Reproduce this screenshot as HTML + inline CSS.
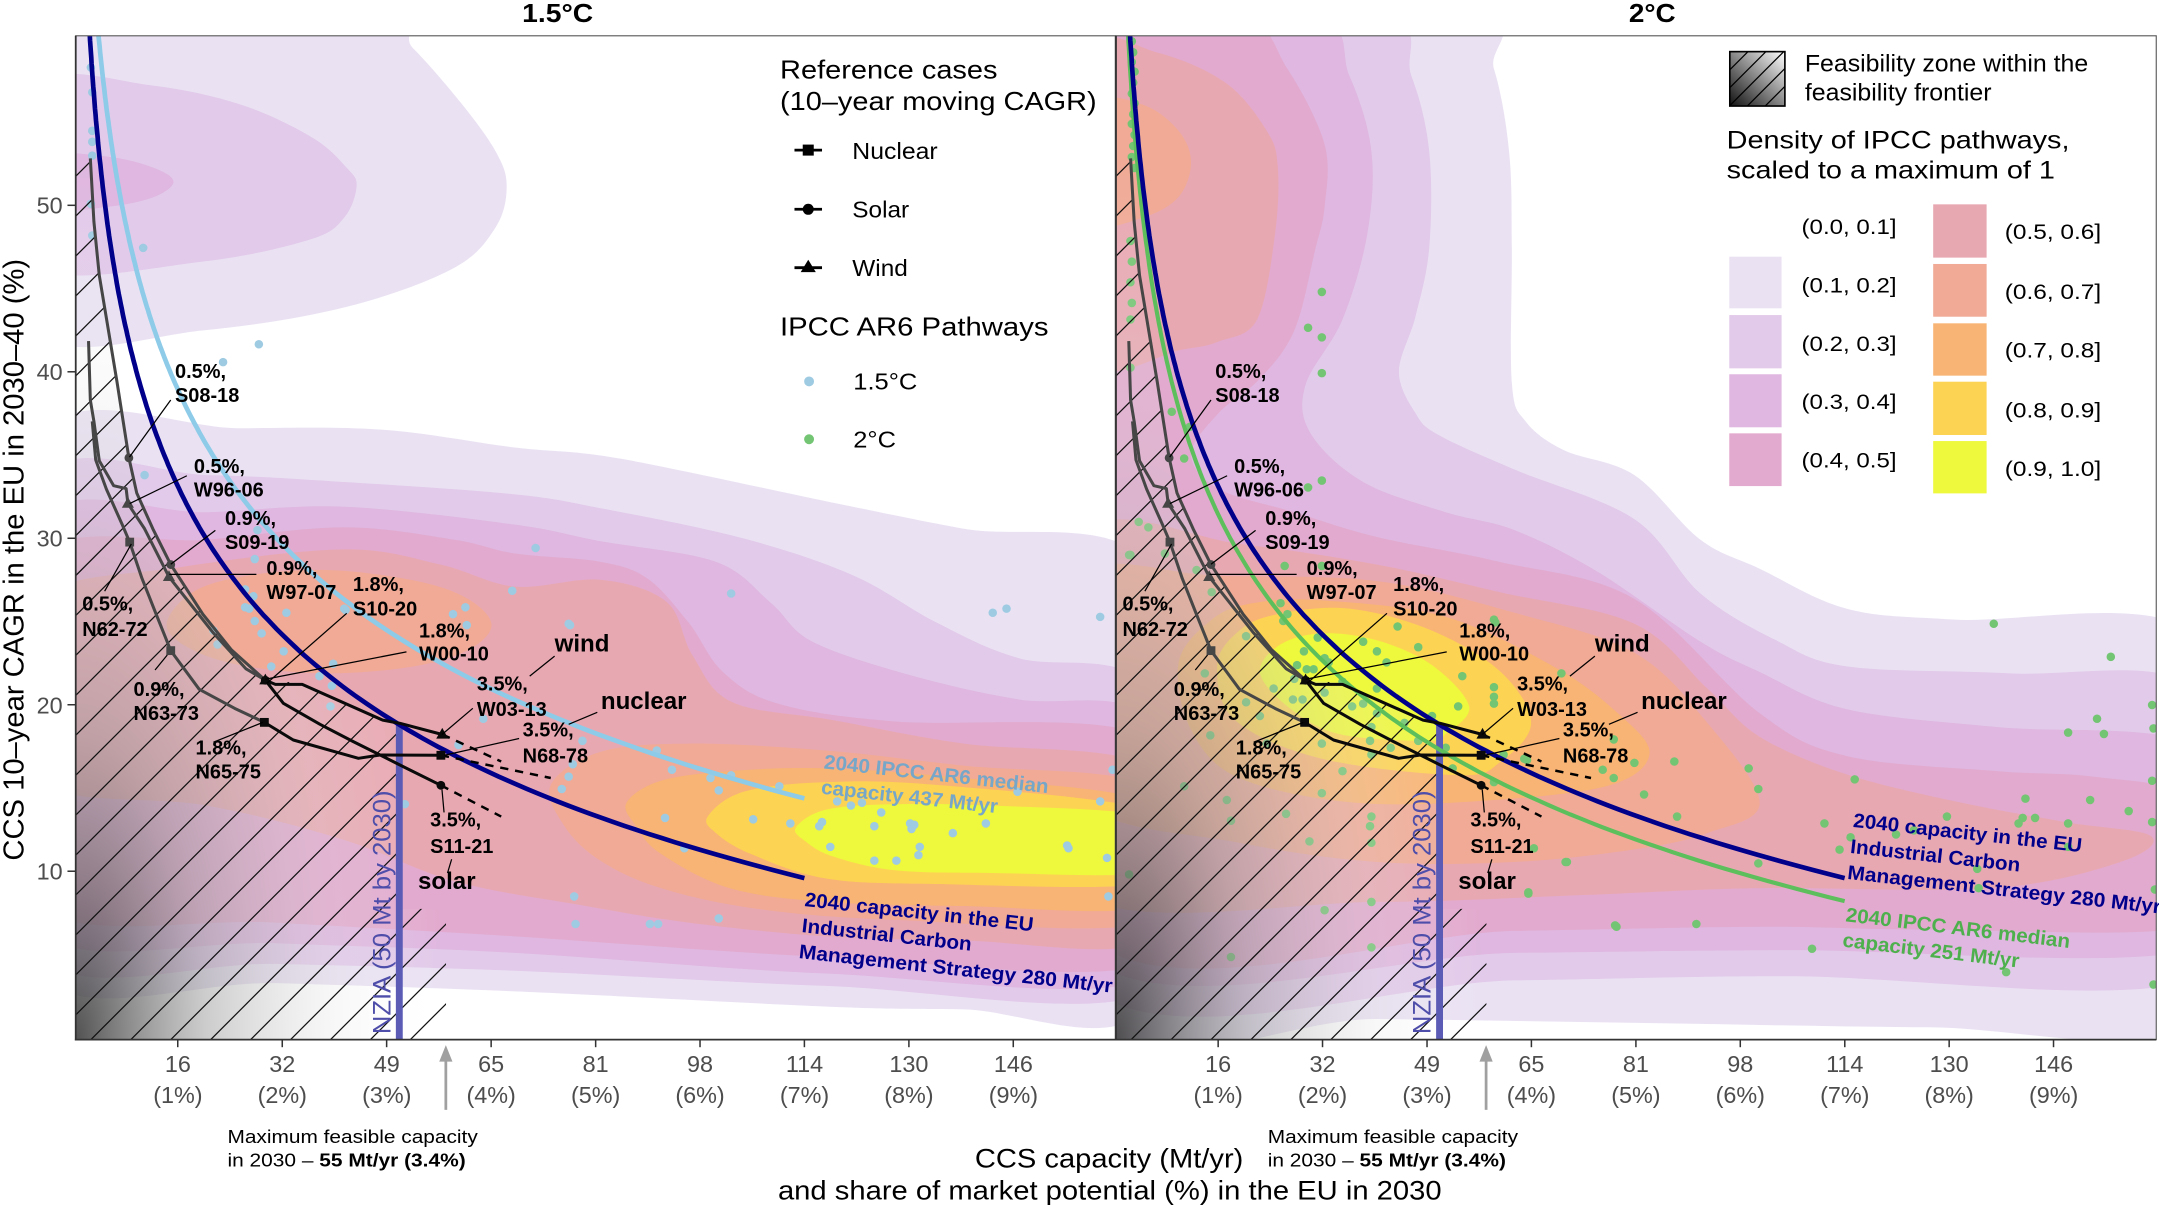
<!DOCTYPE html>
<html><head><meta charset="utf-8"><title>CCS feasibility frontier</title>
<style>
html,body{margin:0;padding:0;background:#fff;overflow:hidden;}
svg{display:block;}
text{font-family:"Liberation Sans",Arial,Helvetica,sans-serif;}
.tk{font-size:17px;fill:#4d4d4d;text-anchor:middle;}
.yt{font-size:17px;fill:#4d4d4d;text-anchor:end;}
.lb{font-size:14.5px;font-weight:bold;fill:#000;}
.lb2{font-size:17.5px;font-weight:bold;fill:#000;}
.lg{font-size:16.5px;fill:#000;}
</style></head><body>
<svg id="s" xmlns="http://www.w3.org/2000/svg" width="2159" height="1209" viewBox="0 0 1568 878" preserveAspectRatio="none">
<defs>
<clipPath id="cpL"><rect x="55" y="26" width="755" height="729"/></clipPath>
<clipPath id="cpR"><rect x="810.5" y="26" width="755.5" height="729"/></clipPath>
<radialGradient id="gg" cx="0" cy="1" r="1" fx="0" fy="1">
<stop offset="0" stop-color="#333333" stop-opacity="0.85"/>
<stop offset="0.35" stop-color="#999999" stop-opacity="0.5"/>
<stop offset="0.7" stop-color="#dddddd" stop-opacity="0.22"/>
<stop offset="1" stop-color="#ffffff" stop-opacity="0"/>
</radialGradient>
<linearGradient id="lgr" x1="0" y1="1" x2="1" y2="0">
<stop offset="0" stop-color="#111"/><stop offset="1" stop-color="#fff"/>
</linearGradient>
<clipPath id="lgc"><rect x="1256.3" y="37.5" width="40" height="39.5"/></clipPath>
</defs>
<rect width="1568" height="878" fill="#fff"/>
<g id="panL" clip-path="url(#cpL)"></g>
<g id="panR" clip-path="url(#cpR)"></g>

<!-- panel borders & axes -->
<rect x="55" y="26" width="755" height="729" fill="none" stroke="#555" stroke-width="0.8"/>
<rect x="810.5" y="26" width="755.5" height="729" fill="none" stroke="#555" stroke-width="0.8"/>
<line x1="55" y1="26" x2="55" y2="755.6" stroke="#333" stroke-width="1.3"/>
<line x1="810.5" y1="26" x2="810.5" y2="755.6" stroke="#333" stroke-width="1.3"/>
<line x1="54.4" y1="755" x2="810" y2="755" stroke="#333" stroke-width="1.3"/>
<line x1="810" y1="755" x2="1566" y2="755" stroke="#333" stroke-width="1.3"/>
<g id="ticks" stroke="#333" stroke-width="1.1"></g>

<!-- titles -->
<text x="405" y="16" font-size="18.5" font-weight="bold" text-anchor="middle" textLength="51.6" lengthAdjust="spacingAndGlyphs">1.5°C</text>
<text x="1200" y="16" font-size="18.5" font-weight="bold" text-anchor="middle" textLength="34" lengthAdjust="spacingAndGlyphs">2°C</text>

<!-- y tick labels -->
<text class="yt" x="45.5" y="155">50</text>
<text class="yt" x="45.5" y="276">40</text>
<text class="yt" x="45.5" y="397">30</text>
<text class="yt" x="45.5" y="518">20</text>
<text class="yt" x="45.5" y="638.7">10</text>

<!-- x tick labels -->
<g>
<text class="tk" x="129.2" y="778.5">16</text><text class="tk" x="129.2" y="801">(1%)</text>
<text class="tk" x="205" y="778.5">32</text><text class="tk" x="205" y="801">(2%)</text>
<text class="tk" x="280.9" y="778.5">49</text><text class="tk" x="280.9" y="801">(3%)</text>
<text class="tk" x="356.7" y="778.5">65</text><text class="tk" x="356.7" y="801">(4%)</text>
<text class="tk" x="432.6" y="778.5">81</text><text class="tk" x="432.6" y="801">(5%)</text>
<text class="tk" x="508.4" y="778.5">98</text><text class="tk" x="508.4" y="801">(6%)</text>
<text class="tk" x="584.3" y="778.5">114</text><text class="tk" x="584.3" y="801">(7%)</text>
<text class="tk" x="660.1" y="778.5">130</text><text class="tk" x="660.1" y="801">(8%)</text>
<text class="tk" x="736" y="778.5">146</text><text class="tk" x="736" y="801">(9%)</text>
<text class="tk" x="884.7" y="778.5">16</text><text class="tk" x="884.7" y="801">(1%)</text>
<text class="tk" x="960.5" y="778.5">32</text><text class="tk" x="960.5" y="801">(2%)</text>
<text class="tk" x="1036.4" y="778.5">49</text><text class="tk" x="1036.4" y="801">(3%)</text>
<text class="tk" x="1112.2" y="778.5">65</text><text class="tk" x="1112.2" y="801">(4%)</text>
<text class="tk" x="1188.1" y="778.5">81</text><text class="tk" x="1188.1" y="801">(5%)</text>
<text class="tk" x="1263.9" y="778.5">98</text><text class="tk" x="1263.9" y="801">(6%)</text>
<text class="tk" x="1339.8" y="778.5">114</text><text class="tk" x="1339.8" y="801">(7%)</text>
<text class="tk" x="1415.6" y="778.5">130</text><text class="tk" x="1415.6" y="801">(8%)</text>
<text class="tk" x="1491.5" y="778.5">146</text><text class="tk" x="1491.5" y="801">(9%)</text>
</g>

<!-- axis titles -->
<text x="805.5" y="848" font-size="19.5" text-anchor="middle" textLength="195" lengthAdjust="spacingAndGlyphs">CCS capacity (Mt/yr)</text>
<text x="806" y="871" font-size="19.5" text-anchor="middle" textLength="482" lengthAdjust="spacingAndGlyphs">and share of market potential (%) in the EU in 2030</text>
<text transform="translate(17,406.5) rotate(-90)" font-size="20.5" text-anchor="middle" textLength="437" lengthAdjust="spacingAndGlyphs">CCS 10–year CAGR in the EU in 2030–40 (%)</text>

<!-- max feasible annotations -->
<g fill="#a0a0a0" stroke="#a0a0a0" stroke-width="2">
<line x1="323.8" y1="806" x2="323.8" y2="768"/><path d="M323.8,759L319,771L328.6,771Z" stroke="none"/>
<line x1="1079.3" y1="806" x2="1079.3" y2="768"/><path d="M1079.3,759L1074.5,771L1084.1,771Z" stroke="none"/>
</g>
<text x="165.2" y="830" font-size="13.5" textLength="181.8" lengthAdjust="spacingAndGlyphs">Maximum feasible capacity</text>
<text x="165.2" y="847" font-size="13.5" textLength="173" lengthAdjust="spacingAndGlyphs">in 2030 – <tspan font-weight="bold">55 Mt/yr (3.4%)</tspan></text>
<text x="920.7" y="830" font-size="13.5" textLength="181.8" lengthAdjust="spacingAndGlyphs">Maximum feasible capacity</text>
<text x="920.7" y="847" font-size="13.5" textLength="173" lengthAdjust="spacingAndGlyphs">in 2030 – <tspan font-weight="bold">55 Mt/yr (3.4%)</tspan></text>

<!-- NZIA texts -->
<text transform="translate(283.5,751) rotate(-90)" font-size="18" fill="#4e4eaa" textLength="177" lengthAdjust="spacingAndGlyphs">NZIA (50 Mt by 2030)</text>
<text transform="translate(1039,751) rotate(-90)" font-size="18" fill="#4e4eaa" textLength="177" lengthAdjust="spacingAndGlyphs">NZIA (50 Mt by 2030)</text>

<!-- curve labels -->
<g font-weight="bold" font-size="14.5" fill="#00008B">
<g transform="translate(584,658) rotate(6.3)">
<text x="0" y="0" textLength="167" lengthAdjust="spacingAndGlyphs">2040 capacity in the EU</text>
<text x="0" y="19" textLength="124" lengthAdjust="spacingAndGlyphs">Industrial Carbon</text>
<text x="0" y="38" textLength="229" lengthAdjust="spacingAndGlyphs">Management Strategy 280 Mt/yr</text>
</g>
<g transform="translate(1345.5,600.5) rotate(6.3)">
<text x="0" y="0" textLength="167" lengthAdjust="spacingAndGlyphs">2040 capacity in the EU</text>
<text x="0" y="19" textLength="124" lengthAdjust="spacingAndGlyphs">Industrial Carbon</text>
<text x="0" y="38" textLength="229" lengthAdjust="spacingAndGlyphs">Management Strategy 280 Mt/yr</text>
</g>
</g>
<g font-weight="bold" font-size="14.5" fill="#76a6c8" transform="translate(598,558) rotate(6.3)">
<text x="0" y="0" textLength="164" lengthAdjust="spacingAndGlyphs">2040 IPCC AR6 median</text>
<text x="0" y="18.5" textLength="129" lengthAdjust="spacingAndGlyphs">capacity 437 Mt/yr</text>
</g>
<g font-weight="bold" font-size="14.5" fill="#4db04d" transform="translate(1340,669) rotate(6.8)">
<text x="0" y="0" textLength="164" lengthAdjust="spacingAndGlyphs">2040 IPCC AR6 median</text>
<text x="0" y="18.5" textLength="129" lengthAdjust="spacingAndGlyphs">capacity 251 Mt/yr</text>
</g>

<!-- point labels left panel -->
<g>
<text class="lb" x="127.1" y="274.4">0.5%,</text><text class="lb" x="127.1" y="291.8">S08-18</text>
<text class="lb" x="140.8" y="343.6">0.5%,</text><text class="lb" x="140.8" y="360.5">W96-06</text>
<text class="lb" x="163.4" y="381.3">0.9%,</text><text class="lb" x="163.4" y="398.7">S09-19</text>
<text class="lb" x="193.5" y="417.6">0.9%,</text><text class="lb" x="193.5" y="435">W97-07</text>
<text class="lb" x="256.3" y="429.3">1.8%,</text><text class="lb" x="256.3" y="446.9">S10-20</text>
<text class="lb" x="304.3" y="463">1.8%,</text><text class="lb" x="304.3" y="479.8">W00-10</text>
<text class="lb" x="59.7" y="443.5">0.5%,</text><text class="lb" x="59.7" y="461.7">N62-72</text>
<text class="lb" x="97" y="505.5">0.9%,</text><text class="lb" x="97" y="523">N63-73</text>
<text class="lb" x="142" y="547.9">1.8%,</text><text class="lb" x="142" y="565.4">N65-75</text>
<text class="lb" x="346.3" y="501.6">3.5%,</text><text class="lb" x="346.3" y="519.8">W03-13</text>
<text class="lb" x="379.6" y="534.8">3.5%,</text><text class="lb" x="379.6" y="553.7">N68-78</text>
<text class="lb" x="312.4" y="600.3">3.5%,</text><text class="lb" x="312.4" y="619.3">S11-21</text>
<text class="lb2" x="402.8" y="473">wind</text>
<text class="lb2" x="436.4" y="515">nuclear</text>
<text class="lb2" x="303.6" y="645.5">solar</text>
</g>
<!-- point labels right panel -->
<g>
<text class="lb" x="882.6" y="274.4">0.5%,</text><text class="lb" x="882.6" y="291.8">S08-18</text>
<text class="lb" x="896.3" y="343.6">0.5%,</text><text class="lb" x="896.3" y="360.5">W96-06</text>
<text class="lb" x="918.9" y="381.3">0.9%,</text><text class="lb" x="918.9" y="398.7">S09-19</text>
<text class="lb" x="949" y="417.6">0.9%,</text><text class="lb" x="949" y="435">W97-07</text>
<text class="lb" x="1011.8" y="429.3">1.8%,</text><text class="lb" x="1011.8" y="446.9">S10-20</text>
<text class="lb" x="1059.8" y="463">1.8%,</text><text class="lb" x="1059.8" y="479.8">W00-10</text>
<text class="lb" x="815.2" y="443.5">0.5%,</text><text class="lb" x="815.2" y="461.7">N62-72</text>
<text class="lb" x="852.5" y="505.5">0.9%,</text><text class="lb" x="852.5" y="523">N63-73</text>
<text class="lb" x="897.5" y="547.9">1.8%,</text><text class="lb" x="897.5" y="565.4">N65-75</text>
<text class="lb" x="1101.8" y="501.6">3.5%,</text><text class="lb" x="1101.8" y="519.8">W03-13</text>
<text class="lb" x="1135.1" y="534.8">3.5%,</text><text class="lb" x="1135.1" y="553.7">N68-78</text>
<text class="lb" x="1067.9" y="600.3">3.5%,</text><text class="lb" x="1067.9" y="619.3">S11-21</text>
<text class="lb2" x="1158.3" y="473">wind</text>
<text class="lb2" x="1191.9" y="515">nuclear</text>
<text class="lb2" x="1059.1" y="645.5">solar</text>
</g>

<!-- left legend -->
<text x="566.5" y="57" font-size="19" textLength="158" lengthAdjust="spacingAndGlyphs">Reference cases</text>
<text x="566.5" y="80" font-size="19" textLength="230" lengthAdjust="spacingAndGlyphs">(10–year moving CAGR)</text>
<g stroke="#000" stroke-width="2">
<line x1="577" y1="109" x2="597" y2="109"/>
<line x1="577" y1="152" x2="597" y2="152"/>
<line x1="577" y1="194.4" x2="597" y2="194.4"/>
</g>
<rect x="583" y="105" width="8" height="8" fill="#000"/>
<circle cx="587" cy="152" r="4" fill="#000"/>
<path d="M587,188.6L592.5,197.6L581.5,197.6Z" fill="#000"/>
<text class="lg" x="619" y="115.5" textLength="62" lengthAdjust="spacingAndGlyphs">Nuclear</text>
<text class="lg" x="619" y="158" textLength="41.3" lengthAdjust="spacingAndGlyphs">Solar</text>
<text class="lg" x="619" y="200.5" textLength="40.3" lengthAdjust="spacingAndGlyphs">Wind</text>
<text x="566.5" y="243.5" font-size="19" textLength="195" lengthAdjust="spacingAndGlyphs">IPCC AR6 Pathways</text>
<circle cx="587.6" cy="277" r="3.6" fill="#9ecbe2"/>
<circle cx="587.6" cy="319" r="3.6" fill="#73c573"/>
<text class="lg" x="619.7" y="283" textLength="46.5" lengthAdjust="spacingAndGlyphs">1.5°C</text>
<text class="lg" x="619.7" y="325" textLength="31" lengthAdjust="spacingAndGlyphs">2°C</text>

<!-- right legend -->
<rect x="1256.3" y="37.5" width="40" height="39.5" fill="url(#lgr)"/>
<g clip-path="url(#lgc)" stroke="#000" stroke-width="0.9">
<line x1="1227" y1="80" x2="1277" y2="30"/>
<line x1="1240" y1="80" x2="1290" y2="30"/>
<line x1="1253" y1="80" x2="1303" y2="30"/>
<line x1="1266" y1="80" x2="1316" y2="30"/>
<line x1="1279" y1="80" x2="1329" y2="30"/>
</g>
<rect x="1256.3" y="37.5" width="40" height="39.5" fill="none" stroke="#000" stroke-width="1.2"/>
<text x="1310.8" y="52" font-size="17.5" textLength="205.8" lengthAdjust="spacingAndGlyphs">Feasibility zone within the</text>
<text x="1310.8" y="73" font-size="17.5" textLength="135.6" lengthAdjust="spacingAndGlyphs">feasibility frontier</text>
<text x="1254" y="107.7" font-size="18" textLength="249" lengthAdjust="spacingAndGlyphs">Density of IPCC pathways,</text>
<text x="1254" y="129.5" font-size="18" textLength="238.4" lengthAdjust="spacingAndGlyphs">scaled to a maximum of 1</text>
<rect x="1255.9" y="186.4" width="38" height="37.5" fill="#EAE2F3"/>
<rect x="1255.9" y="228.8" width="38" height="38.7" fill="#E2CAEA"/>
<rect x="1255.9" y="271.8" width="38" height="38.5" fill="#DFB7E0"/>
<rect x="1255.9" y="314.7" width="38" height="38.3" fill="#E2AACE"/>
<rect x="1404" y="148.4" width="38.8" height="38.7" fill="#E8A8B2"/>
<rect x="1404" y="191.7" width="38.8" height="38.3" fill="#F0AA96"/>
<rect x="1404" y="234.8" width="38.8" height="38" fill="#F8B474"/>
<rect x="1404" y="277.2" width="38.8" height="38.7" fill="#FDD353"/>
<rect x="1404" y="320.3" width="38.8" height="38" fill="#EEF83C"/>
<g font-size="15.5">
<text x="1308.4" y="170" textLength="69" lengthAdjust="spacingAndGlyphs">(0.0, 0.1]</text>
<text x="1308.4" y="212.5" textLength="69" lengthAdjust="spacingAndGlyphs">(0.1, 0.2]</text>
<text x="1308.4" y="255" textLength="69" lengthAdjust="spacingAndGlyphs">(0.2, 0.3]</text>
<text x="1308.4" y="297" textLength="69" lengthAdjust="spacingAndGlyphs">(0.3, 0.4]</text>
<text x="1308.4" y="339.5" textLength="69" lengthAdjust="spacingAndGlyphs">(0.4, 0.5]</text>
<text x="1456" y="173.7" textLength="70" lengthAdjust="spacingAndGlyphs">(0.5, 0.6]</text>
<text x="1456" y="217.3" textLength="70" lengthAdjust="spacingAndGlyphs">(0.6, 0.7]</text>
<text x="1456" y="259.7" textLength="70" lengthAdjust="spacingAndGlyphs">(0.7, 0.8]</text>
<text x="1456" y="303.2" textLength="70" lengthAdjust="spacingAndGlyphs">(0.8, 0.9]</text>
<text x="1456" y="345.6" textLength="70" lengthAdjust="spacingAndGlyphs">(0.9, 1.0]</text>
</g>
</svg>
<script>
(function(){
var NS='http://www.w3.org/2000/svg';
var svg=document.getElementById('s');
var defs=svg.querySelector('defs');
function el(t,a,p){var e=document.createElementNS(NS,t);for(var k in a)e.setAttribute(k,a[k]);p.appendChild(e);return e;}
function f(v){return (Math.round(v*10)/10).toString();}
function sm(P,dx){dx=dx||0;var n=P.length,d='M'+f(P[0][0]+dx)+','+f(P[0][1]);
 for(var i=0;i<n;i++){var p0=P[(i-1+n)%n],p1=P[i],p2=P[(i+1)%n],p3=P[(i+2)%n];
  d+='C'+f(p1[0]+dx+(p2[0]-p0[0])/6)+','+f(p1[1]+(p2[1]-p0[1])/6)+' '+f(p2[0]+dx-(p3[0]-p1[0])/6)+','+f(p2[1]-(p3[1]-p1[1])/6)+' '+f(p2[0]+dx)+','+f(p2[1]);}
 return d+'Z';}
function pl(P,dx){dx=dx||0;var d='';for(var i=0;i<P.length;i++)d+=(i?'L':'M')+f(P[i][0]+dx)+','+f(P[i][1]);return d;}
var COL=['#EAE2F3','#E2CAEA','#DFB7E0','#E2AACE','#E8A8B2','#F0AA96','#F8B474','#FDD353','#EEF83C'];
var gL=document.getElementById('panL'),gR=document.getElementById('panR');
var DX=755.5;

/* ---- density layers ---- */
var LAYL=[
[0,[[30,10],[270,10],[300,35],[335,75],[360,110],[368,135],[360,165],[329,195],[251,223],[147,240],[30,244],[10,127]]],
[0,[[30,314],[173,311],[277,312],[374,325],[450,333],[600,364],[700,384],[830,406],[850,560],[830,734],[700,733],[600,731],[374,720],[200,714],[30,710],[10,520]]],
[1,[[30,58],[110,62],[175,76],[227,100],[252,122],[259,135],[250,158],[225,174],[147,190],[30,196],[10,127]]],
[1,[[30,346],[150,345],[250,350],[374,359],[436,369],[540,391],[620,418],[680,452],[740,478],[830,496],[850,610],[830,722],[600,716],[374,705],[200,700],[30,696],[10,520]]],
[2,[[30,112],[80,114],[112,122],[126,132],[112,143],[80,150],[30,153],[15,132]]],
[2,[[30,375],[150,372],[250,368],[374,381],[436,393],[520,408],[560,438],[590,466],[660,490],[740,508],[830,519],[850,615],[830,712],[600,707],[374,692],[200,685],[30,678],[10,530]]],
[3,[[30,402],[150,392],[250,383],[330,392],[374,402],[436,408],[470,420],[500,452],[525,488],[565,511],[650,524],[830,534],[850,620],[830,701],[600,695],[374,680],[200,670],[30,660],[10,530]]],
[4,[[30,432],[130,412],[250,399],[320,410],[374,426],[436,421],[484,437],[503,476],[532,510],[605,523],[700,540],[830,555],[850,620],[830,685],[700,683],[600,680],[500,670],[420,657],[330,640],[250,610],[150,585],[30,570],[10,500]]],
[5,[[400,570],[436,546],[500,540],[600,545],[700,556],[830,569],[850,620],[830,671],[650,668],[550,660],[480,645],[436,625],[410,600]]],
[5,[[121,454],[140,430],[180,418],[240,414],[303,422],[340,435],[357,454],[340,472],[300,484],[240,489],[180,484],[140,472]]],
[6,[[455,583],[480,567],[530,560],[600,558],[700,565],[830,581],[850,620],[830,659],[700,658],[600,655],[530,645],[480,620],[462,600]]],
[7,[[514,593],[540,575],[600,568],[680,570],[830,587],[850,615],[830,642],[680,642],[600,638],[545,620],[520,605]]],
[8,[[578,601],[600,588],[650,584],[720,585],[830,592],[850,613],[830,634],[720,634],[650,632],[605,622],[585,611]]]
];
var LAYR=[
[0,[[790,10],[1065,10],[1085,50],[1096,110],[1098,180],[1098,278],[1108,306],[1136,327],[1187,345],[1235,392],[1278,413],[1341,442],[1420,450],[1590,458],[1610,600],[1590,745],[1400,746],[1200,743],[1000,740],[790,738],[770,400]]],
[1,[[790,10],[1000,10],[1025,55],[1038,110],[1038,180],[1028,230],[1016,270],[1028,300],[1045,316],[1100,341],[1187,377],[1235,431],[1290,465],[1342,484],[1460,489],[1590,497],[1610,600],[1590,712],[1300,709],[1100,712],[790,716],[770,400]]],
[2,[[790,10],[952,10],[980,55],[996,110],[993,170],[975,232],[948,280],[952,315],[990,350],[1050,372],[1100,385],[1160,415],[1235,466],[1278,488],[1341,515],[1450,528],[1590,540],[1610,610],[1590,690],[1300,690],[1100,692],[790,695],[770,400]]],
[3,[[790,10],[900,10],[935,50],[962,105],[962,150],[955,182],[940,240],[915,275],[885,300],[865,330],[885,355],[940,372],[1000,390],[1089,408],[1187,435],[1278,518],[1341,549],[1450,560],[1520,564],[1590,578],[1610,625],[1590,673],[1400,675],[1278,673],[1100,676],[790,680],[770,350]]],
[4,[[790,35],[840,38],[890,60],[920,95],[928,121],[926,170],[913,232],[885,248],[858,254],[790,264],[770,150]]],
[4,[[790,385],[900,395],[1000,410],[1089,430],[1187,453],[1240,500],[1278,535],[1340,562],[1420,582],[1500,597],[1562,607],[1540,626],[1447,645],[1278,645],[1150,650],[1000,655],[790,652],[770,520]]],
[5,[[790,73],[830,76],[856,95],[865,118],[856,143],[830,158],[790,163],[775,118]]],
[5,[[790,415],[882,418],[1000,422],[1100,445],[1187,474],[1240,525],[1278,583],[1240,605],[1186,617],[1100,626],[1000,626],[900,612],[790,585],[775,500]]],
[6,[[856,481],[880,450],[910,438],[960,436],[1050,448],[1130,485],[1175,518],[1198,547],[1170,570],[1085,581],[985,583],[900,565],[865,530]]],
[7,[[884,483],[900,458],[928,446],[980,442],[1040,458],[1090,488],[1112,525],[1090,553],[1060,563],[960,551],[897,523]]],
[8,[[915,488],[930,468],[960,460],[1000,465],[1040,483],[1067,513],[1050,533],[1035,538],[972,533],[935,513]]]
];
var i;
for(i=0;i<LAYL.length;i++)el('path',{d:sm(LAYL[i][1]),fill:COL[LAYL[i][0]]},gL);
for(i=0;i<LAYR.length;i++)el('path',{d:sm(LAYR[i][1]),fill:COL[LAYR[i][0]]},gR);

/* ---- points ---- */
var PL=[[66,49],[67,67],[67,95],[67,103],[67,113],[66,148],[67,171],[104,180],[188,250],[162,263],[105,345],[187,385],[185,406],[184,433],[178,441],[185,451],[190,460],[208,445],[206,473],[197,484],[251,443],[242,482],[232,491],[241,498],[240,513],[329,446],[338,441],[339,454],[372,429],[389,398],[414,454],[158,468],[155,458],[178,428],[181,442],[531,431],[721,445],[731,442],[799,448],[477,545],[488,559],[516,565],[522,574],[531,563],[566,571],[608,582],[618,585],[626,583],[640,590],[597,597],[595,600],[574,598],[547,595],[483,594],[635,600],[661,598],[664,599],[662,602],[692,605],[716,598],[739,575],[799,582],[808,559],[603,615],[668,615],[667,621],[635,625],[651,625],[775,614],[776,616],[804,623],[805,651],[497,616],[472,671],[478,671],[522,667],[417,651],[418,671],[408,573],[413,564],[416,555],[423,538],[294,584],[351,522],[333,541],[250,442],[413,453]];
var PR=[[822,30],[823,38],[822,45],[824,52],[823,60],[822,68],[824,75],[823,83],[822,90],[824,98],[823,106],[822,114],[824,122],[821,175],[822,190],[821,205],[822,220],[821,232],[821,267],[851,299],[860,333],[864,310],[827,379],[834,383],[821,403],[960,212],[950,238],[960,245],[960,271],[960,349],[950,354],[933,411],[960,411],[1085,450],[1086,452],[1062,491],[1085,499],[1085,506],[1085,511],[1059,513],[1000,473],[1007,481],[990,466],[947,473],[949,486],[942,483],[954,486],[962,478],[965,481],[957,463],[935,446],[932,451],[930,438],[940,493],[939,508],[946,508],[962,503],[982,513],[990,511],[1000,518],[996,528],[995,538],[996,548],[1010,543],[1030,538],[1050,543],[1045,553],[1055,558],[1092,548],[1107,551],[1085,568],[1137,626],[1110,648],[1174,673],[960,576],[996,593],[995,600],[951,611],[996,612],[934,591],[894,596],[891,581],[860,571],[879,534],[875,489],[905,462],[869,414],[846,402],[820,403],[820,635],[996,655],[962,661],[996,688],[894,695],[1448,453],[1134,489],[1172,537],[1187,554],[1216,553],[1164,559],[1172,565],[1270,558],[1277,573],[1347,566],[1194,577],[1218,593],[1325,598],[1336,617],[1414,593],[1377,606],[1390,603],[1436,631],[1437,645],[1277,627],[1138,626],[1110,649],[1173,672],[1232,671],[1109,552],[1114,616],[1533,477],[1563,512],[1523,522],[1502,532],[1528,533],[1564,529],[1563,567],[1471,580],[1518,581],[1546,589],[1563,597],[1478,594],[1469,594],[1502,598],[1466,598],[1344,608],[1502,615],[1565,646],[1316,689],[1457,706],[1564,715],[1030,470],[1015,455],[1000,500],[975,495],[925,500],[915,520],[1040,520],[1020,525],[880,430],[905,510],[920,540],[960,540],[975,560]];
for(i=0;i<PL.length;i++)el('circle',{cx:PL[i][0],cy:PL[i][1],r:3.1,fill:'#9ecbe2'},gL);
for(i=0;i<PR.length;i++)el('circle',{cx:PR[i][0],cy:PR[i][1],r:3.1,fill:'#73c573'},gR);

/* ---- feasibility zone ---- */
var H=[[55,115],[65.6,115],[68.2,161],[72.1,200],[78.6,239],[85,277.5],[93.6,332.5],[99.3,358],[111,384],[124,410],[147.3,446],[168.1,472],[192.7,494],[219.5,496],[281.4,524.6],[289.5,527],[289.5,660],[324,660],[324,755],[55,755]];
function feas(g,dx,id){
 el('path',{d:pl(H,dx)+'Z',fill:'url(#gg)'},g);
 var cp=el('clipPath',{id:id},defs);el('path',{d:pl(H,dx)+'Z'},cp);
 var hg=el('g',{'clip-path':'url(#'+id+')',stroke:'#111','stroke-width':0.9},g);
 for(var c=125;c<1150;c+=29){el('line',{x1:c-800+dx,y1:800,x2:c+dx,y2:0},hg);}
}
feas(gL,0,'hpL');feas(gR,DX,'hpR');

/* ---- NZIA line ---- */
el('line',{x1:290,y1:525.5,x2:290,y2:756,stroke:'#5b5bb6','stroke-width':5},gL);
el('line',{x1:290+DX,y1:525.5,x2:290+DX,y2:756,stroke:'#5b5bb6','stroke-width':5},gR);

/* ---- capacity curves ---- */
function cap(C,x0){var P=[],Mmin=C/Math.pow(1.62,10),Mmax=114.1;
 for(var k=0;k<=180;k++){var M=Mmin*Math.pow(Mmax/Mmin,k/180);var g=Math.pow(C/M,0.1)-1;P.push([x0+4.653*M,753.6-12.09*g*100]);}
 return P;}
el('path',{d:pl(cap(437,53.3)),fill:'none',stroke:'#8dcbe8','stroke-width':3.4},gL);
el('path',{d:pl(cap(285,53.3)),fill:'none',stroke:'#00008B','stroke-width':3.4},gL);
el('path',{d:pl(cap(251,53.3+DX)),fill:'none',stroke:'#5cbf5c','stroke-width':3},gR);
el('path',{d:pl(cap(285,53.3+DX)),fill:'none',stroke:'#00008B','stroke-width':3.4},gR);

/* ---- frontier lines ---- */
var SA=[[65.6,115],[68.2,161],[72.1,200],[78.6,239],[85,277.5],[93.6,332.5],[99.3,358],[111,384],[124,410],[147.3,446],[168.1,472],[192.7,494]];
var SB=[[192.7,494],[205.8,510.8],[232.4,526],[256.6,538.6],[293,556.8],[320.2,570.3]];
var WA=[[64.3,247.7],[65.6,290.5],[68.2,306],[72.1,334.6],[82.5,352.7],[91.6,354.8],[92.9,365.7],[105,384],[122.7,418.9],[134.4,433.7],[155,459.7],[178.5,485.6],[192.7,494]];
var WB=[[192.7,494],[200,497],[219.5,497],[278,523],[290.5,525.3],[321.2,533.4]];
var NA=[[67,306],[69.5,334],[77.3,355.3],[88.9,381.3],[94.2,393.7],[103.1,420],[113.4,446],[124,472.5],[144.7,500.6],[170.4,514.4],[192,524.6]];
var NB=[[192,524.6],[213,537.4],[260.3,550.7],[276,548.3],[320.2,548.5]];
var DSH=[[321.2,533.4,364,553],[320.2,548.5,400,565],[320.2,570.3,364,593]];
var LDR=[[124,290.5,94,332],[135.7,345.5,94.2,365.7],[156.4,385.2,124,409.8],[186.2,417.1,123,417.1],[76,429.3,95.4,395],[251.8,445.4,193.7,496.3],[295.2,473.4,192.7,493.3],[112.6,486.6,121.5,475.7],[155,539,191,524.6],[343.4,514.4,321,533.4],[377,536.3,322.7,548.5],[322.5,590,321,573.5],[328,624,325,634],[402.8,476.5,384.7,491],[433.8,517.3,413,526]];
function tri(g,x,y,c){el('path',{d:'M'+f(x)+','+f(y-4.8)+'L'+f(x+4.4)+','+f(y+3)+'L'+f(x-4.4)+','+f(y+3)+'Z',fill:c},g);}
function sq(g,x,y,c){el('rect',{x:f(x-3.2),y:f(y-3.2),width:6.4,height:6.4,fill:c},g);}
function ci(g,x,y,c){el('circle',{cx:f(x),cy:f(y),r:3.2,fill:c},g);}
function frontier(g,dx){
 var A='#464646',B='#0a0a0a';
 var st={fill:'none','stroke-width':2.2,'stroke-linejoin':'round'};
 function ln(P,c){var a={d:pl(P,dx),stroke:c};for(var k in st)a[k]=st[k];el('path',a,g);}
 ln(SA,A);ln(WA,A);ln(NA,A);ln(SB,B);ln(WB,B);ln(NB,B);
 for(var k=0;k<DSH.length;k++){var d=DSH[k];el('line',{x1:d[0]+dx,y1:d[1],x2:d[2]+dx,y2:d[3],stroke:'#000','stroke-width':1.8,'stroke-dasharray':'6 5'},g);}
 ci(g,93.6+dx,332.5,A);ci(g,124+dx,410,A);ci(g,192.7+dx,494,B);ci(g,320.2+dx,570.3,B);
 tri(g,92.9+dx,365.7,A);tri(g,122.7+dx,418.9,A);tri(g,192.7+dx,494,B);tri(g,321.2+dx,533.4,B);
 sq(g,94.2+dx,393.7,A);sq(g,124+dx,472.5,A);sq(g,192+dx,524.6,B);sq(g,320.2+dx,548.5,B);
 for(k=0;k<LDR.length;k++){var l=LDR[k];el('line',{x1:l[0]+dx,y1:l[1],x2:l[2]+dx,y2:l[3],stroke:'#000','stroke-width':0.9},g);}
}
frontier(gL,0);frontier(gR,DX);

/* ---- ticks ---- */
var tg=document.getElementById('ticks');
for(i=1;i<=9;i++){var x=53.3+75.85*i;el('line',{x1:f(x),y1:755,x2:f(x),y2:760.5},tg);el('line',{x1:f(x+DX),y1:755,x2:f(x+DX),y2:760.5},tg);}
var yv=[10,20,30,40,50];
for(i=0;i<yv.length;i++){var y=753.6-12.09*yv[i];el('line',{x1:49,y1:f(y),x2:55,y2:f(y)},tg);}
})();
</script>
</body></html>
